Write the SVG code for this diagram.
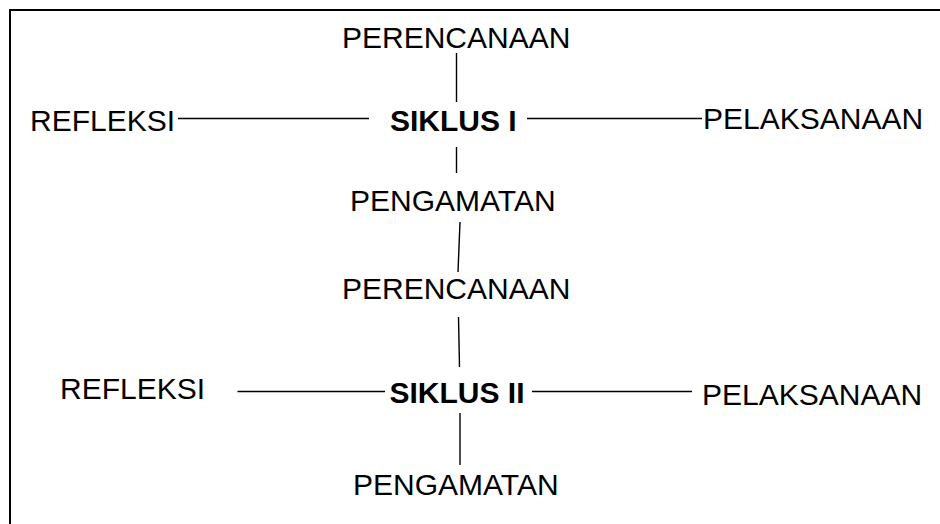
<svg xmlns="http://www.w3.org/2000/svg" width="940" height="524" viewBox="0 0 940 524">
<style>
text{font-family:"Liberation Sans",Arial,sans-serif;font-size:30px;fill:#000}
.b{font-weight:bold}
.c line{stroke:#000;stroke-width:1.4}
</style>
<rect width="940" height="524" fill="#fff"/>
<path d="M10,530 V10 H945" fill="none" stroke="#000" stroke-width="2"/>
<g class="c" id="connectors">
<line x1="456.5" y1="53" x2="456.5" y2="102"/>
<line x1="178" y1="118.5" x2="369" y2="118.5"/>
<line x1="527" y1="118.5" x2="702" y2="118.5"/>
<line x1="456.5" y1="147" x2="456.5" y2="173"/>
<line x1="460" y1="222" x2="458" y2="272"/>
<line x1="458.5" y1="317" x2="459.5" y2="367"/>
<line x1="237.5" y1="391.5" x2="385" y2="391.5"/>
<line x1="532" y1="391.5" x2="692" y2="391.5"/>
<line x1="460" y1="413" x2="460" y2="465"/>
</g>
<g id="n-perencanaan1"><text x="342" y="48">PERENCANAAN</text></g>
<g id="n-refleksi1"><text x="30" y="131">REFLEKSI</text></g>
<g id="n-siklus1"><text class="b" x="390" y="131">SIKLUS I</text></g>
<g id="n-pelaksanaan1"><text x="703" y="129">PELAKSANAAN</text></g>
<g id="n-pengamatan1"><text x="350" y="211">PENGAMATAN</text></g>
<g id="n-perencanaan2"><text x="342" y="299">PERENCANAAN</text></g>
<g id="n-refleksi2"><text x="60" y="398.5">REFLEKSI</text></g>
<g id="n-siklus2"><text class="b" x="389.5" y="403">SIKLUS II</text></g>
<g id="n-pelaksanaan2"><text x="702" y="404.5">PELAKSANAAN</text></g>
<g id="n-pengamatan2"><text x="353" y="495">PENGAMATAN</text></g>
</svg>
